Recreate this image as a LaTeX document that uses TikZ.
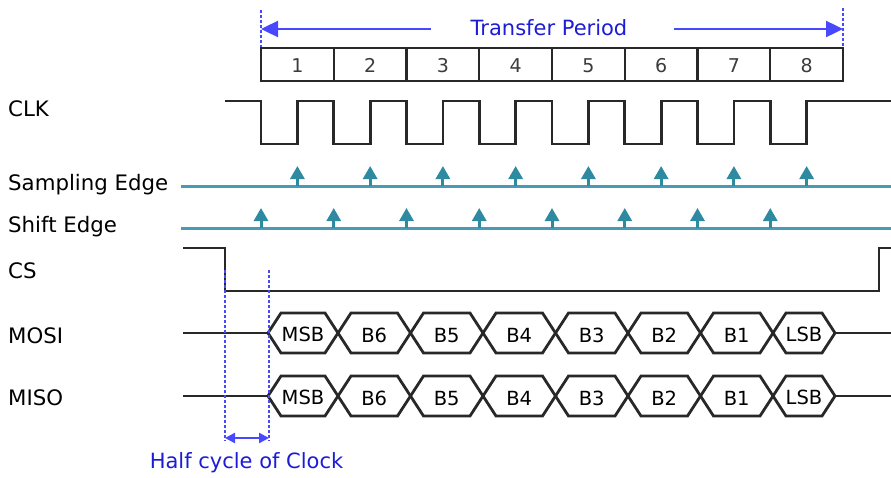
\documentclass[tikz,border=0pt]{standalone}
\usepackage{fontspec}
\setmainfont{DejaVu Sans}
\usetikzlibrary{arrows.meta}
\definecolor{sig}{RGB}{40,40,40}
\definecolor{numcol}{RGB}{60,60,60}
\definecolor{tealarr}{RGB}{46,138,160}
\definecolor{tealline}{RGB}{72,155,178}
\definecolor{bluetxt}{RGB}{28,28,215}
\definecolor{bluearr}{RGB}{72,72,255}
\begin{document}
\begin{tikzpicture}[x=1pt,y=-1pt,
  sigline/.style={draw=sig, line width=2.8pt, line join=miter},
  boxline/.style={draw=sig, line width=2.4pt},
  lbl/.style={anchor=base west, font=\fontsize{21.3}{25}\selectfont, text=black, inner sep=0pt},
  bluetext/.style={font=\fontsize{21}{25}\selectfont, text=bluetxt, inner sep=0pt},
  numtxt/.style={anchor=base, font=\fontsize{19}{22}\selectfont, text=numcol, inner sep=0pt},
  hextxt/.style={anchor=base, font=\fontsize{19.5}{23}\selectfont, text=black, inner sep=0pt},
  bluedot/.style={draw=bluearr, line width=2.6pt, dash pattern=on 2.5pt off 2.5pt},
  bluearrow/.style={draw=bluearr, fill=bluearr, line width=2.4pt},
  edgeline/.style={draw=tealline, line width=3pt},
  edgearrow/.style={draw=tealarr, line width=3pt, -{Triangle[length=13pt,width=14pt]}, color=tealarr}
]
\useasboundingbox (0,0) rectangle (891,477);

% labels
\node[lbl] (lclk) at (8,116) {CLK};
\node[lbl] (lsamp) at (8,190) {Sampling Edge};
\node[lbl] (lshift) at (8,232) {Shift Edge};
\node[lbl] (lcs) at (8,278) {CS};
\node[lbl] (lmosi) at (8,343) {MOSI};
\node[lbl] (lmiso) at (8,405) {MISO};

% transfer period
\node[bluetext] (tp) at (549,27.5) {Transfer Period};
\coordinate (tpL) at (261,29);
\coordinate (tpR) at (843,29);
\draw[bluearrow, -{Triangle[length=17pt,width=16pt]}] ([xshift=-40pt]tp.west |- tpL) -- (tpL);
\draw[bluearrow, -{Triangle[length=17pt,width=16pt]}] ([xshift=46pt]tp.east |- tpR) -- (tpR);
\draw[bluedot] (261,10) -- (261,48);
\draw[bluedot] (843,8) -- (843,48);

% cells
\draw[boxline] (261,48) rectangle (843,81);
\foreach \i in {1,...,7} \draw[boxline] ({261+72.75*\i},48) -- ({261+72.75*\i},81);
\foreach \i in {1,...,8} \node[numtxt] (cell\i) at ({261+72.75*(\i-0.5)},72.5) {\i};

% CLK
\draw[sigline] (225,101) \foreach \i in {0,...,7}{ -- ({261+72.75*\i},101) -- ({261+72.75*\i},144) -- ({297.4+72.75*\i},144) -- ({297.4+72.75*\i},101) } -- (891,101);

% sampling edge
\draw[edgeline] (181,186) -- (891,186);
\foreach \i in {0,...,7} \draw[edgearrow] ({297.4+72.75*\i},186) -- ++(0,-20);
% shift edge
\draw[edgeline] (181,228) -- (891,228);
\foreach \i in {0,...,7} \draw[edgearrow] ({261+72.75*\i},228) -- ++(0,-20);

% CS
\draw[sigline] (183,248) -- (225,248) -- (225,291) -- (879,291) -- (879,248) -- (891,248);

% MOSI / MISO
\foreach \yc/\nm in {333/mosi, 396/miso}{
  \draw[sigline] (183,\yc) -- (268,\yc);
  \draw[sigline] (835,\yc) -- (891,\yc);
  \foreach \a/\b/\t/\d in {268/338/MSB/8, 338/410.5/B6/9.5, 410.5/483/B5/9.5, 483/555.5/B4/9.5, 555.5/628/B3/9.5, 628/700.5/B2/9.5, 700.5/773/B1/9.5, 773/835/LSB/8}{
    \draw[sigline] (\a,\yc) -- ({\a+13},{\yc-20}) -- ({\b-13},{\yc-20}) -- (\b,\yc) -- ({\b-13},{\yc+20}) -- ({\a+13},{\yc+20}) -- cycle;
    \node[hextxt] (\nm\t) at ({(\a+\b)/2},{\yc+\d}) {\t};
  }
}

% half cycle
\draw[bluedot] (225,270) -- (225,441);
\draw[bluedot] (269,270) -- (269,441);
\coordinate (hcL) at (225,438);
\coordinate (hcR) at (269,438);
\draw[bluearrow, {Triangle[length=10pt,width=10pt]}-{Triangle[length=10pt,width=10pt]}] (hcL) -- (hcR);
\node[bluetext] (hc) at (246.5,463) {Half cycle of Clock};
\end{tikzpicture}
\end{document}
